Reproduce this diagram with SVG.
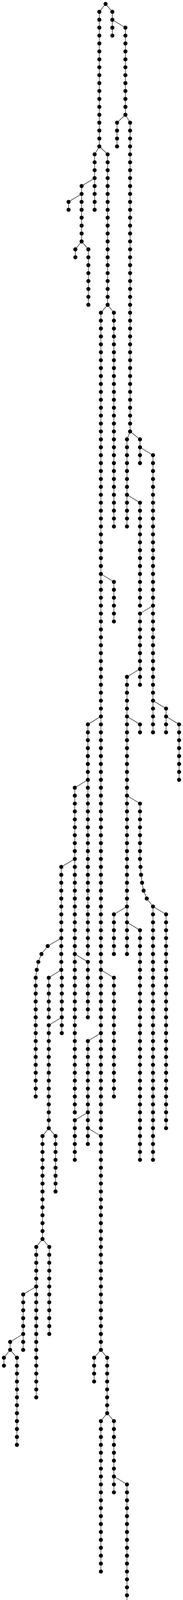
<svg xmlns="http://www.w3.org/2000/svg" width="468" height="4560" viewBox="0 0 468 4560">
<style>
.e path{fill:none;stroke:#111;stroke-width:1.2}
.n circle{fill:#000;r:5.2px}
</style>
<rect width="468" height="4560" fill="#fff"/>
<g id="connectors" class="e">
<path d="M270 10 L254 30.3 V374.8"/>
<path d="M270 10 L287.3 30.3 V91.1"/>
<path d="M287.3 50.5 L320.7 70.8 V293.8"/>
<path d="M320.7 293.8 L299.3 314 V374.8"/>
<path d="M320.7 293.8 L332.7 314 V1104.5"/>
<path d="M254 374.8 L242 395.1 V537"/>
<path d="M254 374.8 L275.3 395.1 V780.2"/>
<path d="M242 455.9 L208.7 476.2 V618"/>
<path d="M208.7 496.4 L175.3 516.7 V537"/>
<path d="M208.7 618 L192.7 638.3 V658.6"/>
<path d="M208.7 618 L226 638.3 V780.2"/>
<path d="M275.3 780.2 L258 800.5 V2888.1"/>
<path d="M275.3 780.2 L291.3 800.5 V1347.7"/>
<path d="M332.7 1104.5 L324.7 1124.7 V1347.7"/>
<path d="M332.7 1104.5 L358 1124.7 V1185.5"/>
<path d="M358 1145 L391.3 1165.3 V1874.7"/>
<path d="M324.7 1266.6 L358 1286.9 V1550.4"/>
<path d="M258 1469.3 L291.3 1489.6 V1590.9"/>
<path d="M258 1834.1 L224.7 1854.4 V2442.2"/>
<path d="M391.3 1550.4 L358 1570.6 V1753"/>
<path d="M358 1712.5 L324.7 1732.8 V2442.2"/>
<path d="M324.7 1834.1 L358 1854.4 V1874.7"/>
<path d="M391.3 1793.6 L424.7 1813.9 V1874.7"/>
<path d="M424.7 1834.1 L458 1854.4 V1996.3"/>
<path d="M224.7 1996.3 L191.3 2016.5 V2847.5"/>
<path d="M191.3 2198.9 L156.7 2219.2 V2482.7"/>
<path d="M324.7 2036.8 L358 2057.1 V2198.9 L359.3 2219.2 L360.7 2239.5 L363.3 2259.7 L367.3 2280 L375.3 2300.3 L391.3 2320.6 V2969.1"/>
<path d="M156.7 2401.6 L122 2421.9 L106 2442.2 L98 2462.4 L94 2482.7 L91.3 2503 V2807"/>
<path d="M156.7 2482.7 L124.7 2503 V2604.3"/>
<path d="M156.7 2482.7 L158 2503 V2644.8"/>
<path d="M158 2604.3 L124.7 2624.6 V2888.1"/>
<path d="M191.3 2442.2 L224.7 2462.4 V2604.3"/>
<path d="M258 2482.7 L291.3 2503 V2807"/>
<path d="M258 2644.8 L224.7 2665.1 V2928.6"/>
<path d="M324.7 2320.6 L291.3 2340.8 V2442.2"/>
<path d="M324.7 2361.1 L358 2381.4 V2969.1"/>
<path d="M391.3 2320.6 L424.7 2340.8 V2888.1"/>
<path d="M124.7 2888.1 L108.7 2908.3 V3171.8"/>
<path d="M124.7 2888.1 L142 2908.3 V3050.2"/>
<path d="M224.7 2847.5 L191.3 2867.8 V2969.1"/>
<path d="M224.7 2888.1 L258 2908.3 V3455.6"/>
<path d="M108.7 3171.8 L92.7 3192.1 V3577.2"/>
<path d="M108.7 3171.8 L126 3192.1 V3415"/>
<path d="M92.7 3293.4 L59.3 3313.7 V3455.6"/>
<path d="M59.3 3415 L26 3435.3 V3455.6"/>
<path d="M26 3455.6 L10 3475.8 V3496.1"/>
<path d="M26 3455.6 L43.3 3475.8 V3698.8"/>
<path d="M258 3455.6 L240.7 3475.8 V3536.6"/>
<path d="M258 3455.6 L274 3475.8 V3617.7"/>
<path d="M274 3617.7 L258 3638 V4023.1"/>
<path d="M274 3617.7 L291.3 3638 V3820.4"/>
<path d="M291.3 3779.8 L324.7 3800.1 V4104.1"/>
<path d="M324.7 4104.1 L308.7 4124.4 V4185.2"/>
<path d="M324.7 4104.1 L342 4124.4 V4225.7"/>
<path d="M308.7 4144.7 L275.3 4164.9 V4266.3"/>
<path d="M342 4225.7 L324.7 4246 V4266.3"/>
<path d="M342 4225.7 L358 4246 V4347.4"/>
<path d="M358 4347.4 L342 4367.6 V4428.4"/>
<path d="M358 4347.4 L375.3 4367.6 V4550"/>
</g>
<g id="nodes" class="n">
<g id="n0"><circle cx="270" cy="10"/></g>
<g id="c1" transform="translate(254 0)">
<g id="n1-1"><circle cy="30.3"/></g><g id="n1-2"><circle cy="50.5"/></g><g id="n1-3"><circle cy="70.8"/></g><g id="n1-4"><circle cy="91.1"/></g><g id="n1-5"><circle cy="111.3"/></g><g id="n1-6"><circle cy="131.6"/></g><g id="n1-7"><circle cy="151.9"/></g><g id="n1-8"><circle cy="172.1"/></g><g id="n1-9"><circle cy="192.4"/></g><g id="n1-10"><circle cy="212.7"/></g><g id="n1-11"><circle cy="232.9"/></g><g id="n1-12"><circle cy="253.2"/></g><g id="n1-13"><circle cy="273.5"/></g><g id="n1-14"><circle cy="293.8"/></g><g id="n1-15"><circle cy="314"/></g><g id="n1-16"><circle cy="334.3"/></g><g id="n1-17"><circle cy="354.6"/></g><g id="n1-18"><circle cy="374.8"/></g>
</g>
<g id="c2" transform="translate(287.3 0)">
<g id="n2-1"><circle cy="30.3"/></g><g id="n2-2"><circle cy="50.5"/></g><g id="n2-3"><circle cy="70.8"/></g><g id="n2-4"><circle cy="91.1"/></g>
</g>
<g id="c3" transform="translate(320.7 0)">
<g id="n3-3"><circle cy="70.8"/></g><g id="n3-4"><circle cy="91.1"/></g><g id="n3-5"><circle cy="111.3"/></g><g id="n3-6"><circle cy="131.6"/></g><g id="n3-7"><circle cy="151.9"/></g><g id="n3-8"><circle cy="172.1"/></g><g id="n3-9"><circle cy="192.4"/></g><g id="n3-10"><circle cy="212.7"/></g><g id="n3-11"><circle cy="232.9"/></g><g id="n3-12"><circle cy="253.2"/></g><g id="n3-13"><circle cy="273.5"/></g><g id="n3-14"><circle cy="293.8"/></g>
</g>
<g id="c4" transform="translate(299.3 0)">
<g id="n4-15"><circle cy="314"/></g><g id="n4-16"><circle cy="334.3"/></g><g id="n4-17"><circle cy="354.6"/></g><g id="n4-18"><circle cy="374.8"/></g>
</g>
<g id="c5" transform="translate(332.7 0)">
<g id="n5-15"><circle cy="314"/></g><g id="n5-16"><circle cy="334.3"/></g><g id="n5-17"><circle cy="354.6"/></g><g id="n5-18"><circle cy="374.8"/></g><g id="n5-19"><circle cy="395.1"/></g><g id="n5-20"><circle cy="415.4"/></g><g id="n5-21"><circle cy="435.6"/></g><g id="n5-22"><circle cy="455.9"/></g><g id="n5-23"><circle cy="476.2"/></g><g id="n5-24"><circle cy="496.4"/></g><g id="n5-25"><circle cy="516.7"/></g><g id="n5-26"><circle cy="537"/></g><g id="n5-27"><circle cy="557.2"/></g><g id="n5-28"><circle cy="577.5"/></g><g id="n5-29"><circle cy="597.8"/></g><g id="n5-30"><circle cy="618"/></g><g id="n5-31"><circle cy="638.3"/></g><g id="n5-32"><circle cy="658.6"/></g><g id="n5-33"><circle cy="678.8"/></g><g id="n5-34"><circle cy="699.1"/></g><g id="n5-35"><circle cy="719.4"/></g><g id="n5-36"><circle cy="739.6"/></g><g id="n5-37"><circle cy="759.9"/></g><g id="n5-38"><circle cy="780.2"/></g><g id="n5-39"><circle cy="800.5"/></g><g id="n5-40"><circle cy="820.7"/></g><g id="n5-41"><circle cy="841"/></g><g id="n5-42"><circle cy="861.3"/></g><g id="n5-43"><circle cy="881.5"/></g><g id="n5-44"><circle cy="901.8"/></g><g id="n5-45"><circle cy="922.1"/></g><g id="n5-46"><circle cy="942.3"/></g><g id="n5-47"><circle cy="962.6"/></g><g id="n5-48"><circle cy="982.9"/></g><g id="n5-49"><circle cy="1003.1"/></g><g id="n5-50"><circle cy="1023.4"/></g><g id="n5-51"><circle cy="1043.7"/></g><g id="n5-52"><circle cy="1063.9"/></g><g id="n5-53"><circle cy="1084.2"/></g><g id="n5-54"><circle cy="1104.5"/></g>
</g>
<g id="c6" transform="translate(242 0)">
<g id="n6-19"><circle cy="395.1"/></g><g id="n6-20"><circle cy="415.4"/></g><g id="n6-21"><circle cy="435.6"/></g><g id="n6-22"><circle cy="455.9"/></g><g id="n6-23"><circle cy="476.2"/></g><g id="n6-24"><circle cy="496.4"/></g><g id="n6-25"><circle cy="516.7"/></g><g id="n6-26"><circle cy="537"/></g>
</g>
<g id="c7" transform="translate(275.3 0)">
<g id="n7-19"><circle cy="395.1"/></g><g id="n7-20"><circle cy="415.4"/></g><g id="n7-21"><circle cy="435.6"/></g><g id="n7-22"><circle cy="455.9"/></g><g id="n7-23"><circle cy="476.2"/></g><g id="n7-24"><circle cy="496.4"/></g><g id="n7-25"><circle cy="516.7"/></g><g id="n7-26"><circle cy="537"/></g><g id="n7-27"><circle cy="557.2"/></g><g id="n7-28"><circle cy="577.5"/></g><g id="n7-29"><circle cy="597.8"/></g><g id="n7-30"><circle cy="618"/></g><g id="n7-31"><circle cy="638.3"/></g><g id="n7-32"><circle cy="658.6"/></g><g id="n7-33"><circle cy="678.8"/></g><g id="n7-34"><circle cy="699.1"/></g><g id="n7-35"><circle cy="719.4"/></g><g id="n7-36"><circle cy="739.6"/></g><g id="n7-37"><circle cy="759.9"/></g><g id="n7-38"><circle cy="780.2"/></g>
</g>
<g id="c8" transform="translate(208.7 0)">
<g id="n8-23"><circle cy="476.2"/></g><g id="n8-24"><circle cy="496.4"/></g><g id="n8-25"><circle cy="516.7"/></g><g id="n8-26"><circle cy="537"/></g><g id="n8-27"><circle cy="557.2"/></g><g id="n8-28"><circle cy="577.5"/></g><g id="n8-29"><circle cy="597.8"/></g><g id="n8-30"><circle cy="618"/></g>
</g>
<g id="c9" transform="translate(175.3 0)">
<g id="n9-25"><circle cy="516.7"/></g><g id="n9-26"><circle cy="537"/></g>
</g>
<g id="c10" transform="translate(192.7 0)">
<g id="n10-31"><circle cy="638.3"/></g><g id="n10-32"><circle cy="658.6"/></g>
</g>
<g id="c11" transform="translate(226 0)">
<g id="n11-31"><circle cy="638.3"/></g><g id="n11-32"><circle cy="658.6"/></g><g id="n11-33"><circle cy="678.8"/></g><g id="n11-34"><circle cy="699.1"/></g><g id="n11-35"><circle cy="719.4"/></g><g id="n11-36"><circle cy="739.6"/></g><g id="n11-37"><circle cy="759.9"/></g><g id="n11-38"><circle cy="780.2"/></g>
</g>
<g id="c12" transform="translate(258 0)">
<g id="n12-39"><circle cy="800.5"/></g><g id="n12-40"><circle cy="820.7"/></g><g id="n12-41"><circle cy="841"/></g><g id="n12-42"><circle cy="861.3"/></g><g id="n12-43"><circle cy="881.5"/></g><g id="n12-44"><circle cy="901.8"/></g><g id="n12-45"><circle cy="922.1"/></g><g id="n12-46"><circle cy="942.3"/></g><g id="n12-47"><circle cy="962.6"/></g><g id="n12-48"><circle cy="982.9"/></g><g id="n12-49"><circle cy="1003.1"/></g><g id="n12-50"><circle cy="1023.4"/></g><g id="n12-51"><circle cy="1043.7"/></g><g id="n12-52"><circle cy="1063.9"/></g><g id="n12-53"><circle cy="1084.2"/></g><g id="n12-54"><circle cy="1104.5"/></g><g id="n12-55"><circle cy="1124.7"/></g><g id="n12-56"><circle cy="1145"/></g><g id="n12-57"><circle cy="1165.3"/></g><g id="n12-58"><circle cy="1185.5"/></g><g id="n12-59"><circle cy="1205.8"/></g><g id="n12-60"><circle cy="1226.1"/></g><g id="n12-61"><circle cy="1246.3"/></g><g id="n12-62"><circle cy="1266.6"/></g><g id="n12-63"><circle cy="1286.9"/></g><g id="n12-64"><circle cy="1307.2"/></g><g id="n12-65"><circle cy="1327.4"/></g><g id="n12-66"><circle cy="1347.7"/></g><g id="n12-67"><circle cy="1368"/></g><g id="n12-68"><circle cy="1388.2"/></g><g id="n12-69"><circle cy="1408.5"/></g><g id="n12-70"><circle cy="1428.8"/></g><g id="n12-71"><circle cy="1449"/></g><g id="n12-72"><circle cy="1469.3"/></g><g id="n12-73"><circle cy="1489.6"/></g><g id="n12-74"><circle cy="1509.8"/></g><g id="n12-75"><circle cy="1530.1"/></g><g id="n12-76"><circle cy="1550.4"/></g><g id="n12-77"><circle cy="1570.6"/></g><g id="n12-78"><circle cy="1590.9"/></g><g id="n12-79"><circle cy="1611.2"/></g><g id="n12-80"><circle cy="1631.4"/></g><g id="n12-81"><circle cy="1651.7"/></g><g id="n12-82"><circle cy="1672"/></g><g id="n12-83"><circle cy="1692.2"/></g><g id="n12-84"><circle cy="1712.5"/></g><g id="n12-85"><circle cy="1732.8"/></g><g id="n12-86"><circle cy="1753"/></g><g id="n12-87"><circle cy="1773.3"/></g><g id="n12-88"><circle cy="1793.6"/></g><g id="n12-89"><circle cy="1813.9"/></g><g id="n12-90"><circle cy="1834.1"/></g><g id="n12-91"><circle cy="1854.4"/></g><g id="n12-92"><circle cy="1874.7"/></g><g id="n12-93"><circle cy="1894.9"/></g><g id="n12-94"><circle cy="1915.2"/></g><g id="n12-95"><circle cy="1935.5"/></g><g id="n12-96"><circle cy="1955.7"/></g><g id="n12-97"><circle cy="1976"/></g><g id="n12-98"><circle cy="1996.3"/></g><g id="n12-99"><circle cy="2016.5"/></g><g id="n12-100"><circle cy="2036.8"/></g><g id="n12-101"><circle cy="2057.1"/></g><g id="n12-102"><circle cy="2077.3"/></g><g id="n12-103"><circle cy="2097.6"/></g><g id="n12-104"><circle cy="2117.9"/></g><g id="n12-105"><circle cy="2138.1"/></g><g id="n12-106"><circle cy="2158.4"/></g><g id="n12-107"><circle cy="2178.7"/></g><g id="n12-108"><circle cy="2198.9"/></g><g id="n12-109"><circle cy="2219.2"/></g><g id="n12-110"><circle cy="2239.5"/></g><g id="n12-111"><circle cy="2259.7"/></g><g id="n12-112"><circle cy="2280"/></g><g id="n12-113"><circle cy="2300.3"/></g><g id="n12-114"><circle cy="2320.6"/></g><g id="n12-115"><circle cy="2340.8"/></g><g id="n12-116"><circle cy="2361.1"/></g><g id="n12-117"><circle cy="2381.4"/></g><g id="n12-118"><circle cy="2401.6"/></g><g id="n12-119"><circle cy="2421.9"/></g><g id="n12-120"><circle cy="2442.2"/></g><g id="n12-121"><circle cy="2462.4"/></g><g id="n12-122"><circle cy="2482.7"/></g><g id="n12-123"><circle cy="2503"/></g><g id="n12-124"><circle cy="2523.2"/></g><g id="n12-125"><circle cy="2543.5"/></g><g id="n12-126"><circle cy="2563.8"/></g><g id="n12-127"><circle cy="2584"/></g><g id="n12-128"><circle cy="2604.3"/></g><g id="n12-129"><circle cy="2624.6"/></g><g id="n12-130"><circle cy="2644.8"/></g><g id="n12-131"><circle cy="2665.1"/></g><g id="n12-132"><circle cy="2685.4"/></g><g id="n12-133"><circle cy="2705.6"/></g><g id="n12-134"><circle cy="2725.9"/></g><g id="n12-135"><circle cy="2746.2"/></g><g id="n12-136"><circle cy="2766.4"/></g><g id="n12-137"><circle cy="2786.7"/></g><g id="n12-138"><circle cy="2807"/></g><g id="n12-139"><circle cy="2827.3"/></g><g id="n12-140"><circle cy="2847.5"/></g><g id="n12-141"><circle cy="2867.8"/></g><g id="n12-142"><circle cy="2888.1"/></g>
</g>
<g id="c13" transform="translate(291.3 0)">
<g id="n13-39"><circle cy="800.5"/></g><g id="n13-40"><circle cy="820.7"/></g><g id="n13-41"><circle cy="841"/></g><g id="n13-42"><circle cy="861.3"/></g><g id="n13-43"><circle cy="881.5"/></g><g id="n13-44"><circle cy="901.8"/></g><g id="n13-45"><circle cy="922.1"/></g><g id="n13-46"><circle cy="942.3"/></g><g id="n13-47"><circle cy="962.6"/></g><g id="n13-48"><circle cy="982.9"/></g><g id="n13-49"><circle cy="1003.1"/></g><g id="n13-50"><circle cy="1023.4"/></g><g id="n13-51"><circle cy="1043.7"/></g><g id="n13-52"><circle cy="1063.9"/></g><g id="n13-53"><circle cy="1084.2"/></g><g id="n13-54"><circle cy="1104.5"/></g><g id="n13-55"><circle cy="1124.7"/></g><g id="n13-56"><circle cy="1145"/></g><g id="n13-57"><circle cy="1165.3"/></g><g id="n13-58"><circle cy="1185.5"/></g><g id="n13-59"><circle cy="1205.8"/></g><g id="n13-60"><circle cy="1226.1"/></g><g id="n13-61"><circle cy="1246.3"/></g><g id="n13-62"><circle cy="1266.6"/></g><g id="n13-63"><circle cy="1286.9"/></g><g id="n13-64"><circle cy="1307.2"/></g><g id="n13-65"><circle cy="1327.4"/></g><g id="n13-66"><circle cy="1347.7"/></g>
</g>
<g id="c14" transform="translate(324.7 0)">
<g id="n14-55"><circle cy="1124.7"/></g><g id="n14-56"><circle cy="1145"/></g><g id="n14-57"><circle cy="1165.3"/></g><g id="n14-58"><circle cy="1185.5"/></g><g id="n14-59"><circle cy="1205.8"/></g><g id="n14-60"><circle cy="1226.1"/></g><g id="n14-61"><circle cy="1246.3"/></g><g id="n14-62"><circle cy="1266.6"/></g><g id="n14-63"><circle cy="1286.9"/></g><g id="n14-64"><circle cy="1307.2"/></g><g id="n14-65"><circle cy="1327.4"/></g><g id="n14-66"><circle cy="1347.7"/></g>
</g>
<g id="c15" transform="translate(358 0)">
<g id="n15-55"><circle cy="1124.7"/></g><g id="n15-56"><circle cy="1145"/></g><g id="n15-57"><circle cy="1165.3"/></g><g id="n15-58"><circle cy="1185.5"/></g>
</g>
<g id="c16" transform="translate(391.3 0)">
<g id="n16-57"><circle cy="1165.3"/></g><g id="n16-58"><circle cy="1185.5"/></g><g id="n16-59"><circle cy="1205.8"/></g><g id="n16-60"><circle cy="1226.1"/></g><g id="n16-61"><circle cy="1246.3"/></g><g id="n16-62"><circle cy="1266.6"/></g><g id="n16-63"><circle cy="1286.9"/></g><g id="n16-64"><circle cy="1307.2"/></g><g id="n16-65"><circle cy="1327.4"/></g><g id="n16-66"><circle cy="1347.7"/></g><g id="n16-67"><circle cy="1368"/></g><g id="n16-68"><circle cy="1388.2"/></g><g id="n16-69"><circle cy="1408.5"/></g><g id="n16-70"><circle cy="1428.8"/></g><g id="n16-71"><circle cy="1449"/></g><g id="n16-72"><circle cy="1469.3"/></g><g id="n16-73"><circle cy="1489.6"/></g><g id="n16-74"><circle cy="1509.8"/></g><g id="n16-75"><circle cy="1530.1"/></g><g id="n16-76"><circle cy="1550.4"/></g><g id="n16-77"><circle cy="1570.6"/></g><g id="n16-78"><circle cy="1590.9"/></g><g id="n16-79"><circle cy="1611.2"/></g><g id="n16-80"><circle cy="1631.4"/></g><g id="n16-81"><circle cy="1651.7"/></g><g id="n16-82"><circle cy="1672"/></g><g id="n16-83"><circle cy="1692.2"/></g><g id="n16-84"><circle cy="1712.5"/></g><g id="n16-85"><circle cy="1732.8"/></g><g id="n16-86"><circle cy="1753"/></g><g id="n16-87"><circle cy="1773.3"/></g><g id="n16-88"><circle cy="1793.6"/></g><g id="n16-89"><circle cy="1813.9"/></g><g id="n16-90"><circle cy="1834.1"/></g><g id="n16-91"><circle cy="1854.4"/></g><g id="n16-92"><circle cy="1874.7"/></g>
</g>
<g id="c17" transform="translate(358 0)">
<g id="n17-63"><circle cy="1286.9"/></g><g id="n17-64"><circle cy="1307.2"/></g><g id="n17-65"><circle cy="1327.4"/></g><g id="n17-66"><circle cy="1347.7"/></g><g id="n17-67"><circle cy="1368"/></g><g id="n17-68"><circle cy="1388.2"/></g><g id="n17-69"><circle cy="1408.5"/></g><g id="n17-70"><circle cy="1428.8"/></g><g id="n17-71"><circle cy="1449"/></g><g id="n17-72"><circle cy="1469.3"/></g><g id="n17-73"><circle cy="1489.6"/></g><g id="n17-74"><circle cy="1509.8"/></g><g id="n17-75"><circle cy="1530.1"/></g><g id="n17-76"><circle cy="1550.4"/></g>
</g>
<g id="c18" transform="translate(291.3 0)">
<g id="n18-73"><circle cy="1489.6"/></g><g id="n18-74"><circle cy="1509.8"/></g><g id="n18-75"><circle cy="1530.1"/></g><g id="n18-76"><circle cy="1550.4"/></g><g id="n18-77"><circle cy="1570.6"/></g><g id="n18-78"><circle cy="1590.9"/></g>
</g>
<g id="c19" transform="translate(224.7 0)">
<g id="n19-91"><circle cy="1854.4"/></g><g id="n19-92"><circle cy="1874.7"/></g><g id="n19-93"><circle cy="1894.9"/></g><g id="n19-94"><circle cy="1915.2"/></g><g id="n19-95"><circle cy="1935.5"/></g><g id="n19-96"><circle cy="1955.7"/></g><g id="n19-97"><circle cy="1976"/></g><g id="n19-98"><circle cy="1996.3"/></g><g id="n19-99"><circle cy="2016.5"/></g><g id="n19-100"><circle cy="2036.8"/></g><g id="n19-101"><circle cy="2057.1"/></g><g id="n19-102"><circle cy="2077.3"/></g><g id="n19-103"><circle cy="2097.6"/></g><g id="n19-104"><circle cy="2117.9"/></g><g id="n19-105"><circle cy="2138.1"/></g><g id="n19-106"><circle cy="2158.4"/></g><g id="n19-107"><circle cy="2178.7"/></g><g id="n19-108"><circle cy="2198.9"/></g><g id="n19-109"><circle cy="2219.2"/></g><g id="n19-110"><circle cy="2239.5"/></g><g id="n19-111"><circle cy="2259.7"/></g><g id="n19-112"><circle cy="2280"/></g><g id="n19-113"><circle cy="2300.3"/></g><g id="n19-114"><circle cy="2320.6"/></g><g id="n19-115"><circle cy="2340.8"/></g><g id="n19-116"><circle cy="2361.1"/></g><g id="n19-117"><circle cy="2381.4"/></g><g id="n19-118"><circle cy="2401.6"/></g><g id="n19-119"><circle cy="2421.9"/></g><g id="n19-120"><circle cy="2442.2"/></g>
</g>
<g id="c20" transform="translate(358 0)">
<g id="n20-77"><circle cy="1570.6"/></g><g id="n20-78"><circle cy="1590.9"/></g><g id="n20-79"><circle cy="1611.2"/></g><g id="n20-80"><circle cy="1631.4"/></g><g id="n20-81"><circle cy="1651.7"/></g><g id="n20-82"><circle cy="1672"/></g><g id="n20-83"><circle cy="1692.2"/></g><g id="n20-84"><circle cy="1712.5"/></g><g id="n20-85"><circle cy="1732.8"/></g><g id="n20-86"><circle cy="1753"/></g>
</g>
<g id="c21" transform="translate(324.7 0)">
<g id="n21-85"><circle cy="1732.8"/></g><g id="n21-86"><circle cy="1753"/></g><g id="n21-87"><circle cy="1773.3"/></g><g id="n21-88"><circle cy="1793.6"/></g><g id="n21-89"><circle cy="1813.9"/></g><g id="n21-90"><circle cy="1834.1"/></g><g id="n21-91"><circle cy="1854.4"/></g><g id="n21-92"><circle cy="1874.7"/></g><g id="n21-93"><circle cy="1894.9"/></g><g id="n21-94"><circle cy="1915.2"/></g><g id="n21-95"><circle cy="1935.5"/></g><g id="n21-96"><circle cy="1955.7"/></g><g id="n21-97"><circle cy="1976"/></g><g id="n21-98"><circle cy="1996.3"/></g><g id="n21-99"><circle cy="2016.5"/></g><g id="n21-100"><circle cy="2036.8"/></g><g id="n21-101"><circle cy="2057.1"/></g><g id="n21-102"><circle cy="2077.3"/></g><g id="n21-103"><circle cy="2097.6"/></g><g id="n21-104"><circle cy="2117.9"/></g><g id="n21-105"><circle cy="2138.1"/></g><g id="n21-106"><circle cy="2158.4"/></g><g id="n21-107"><circle cy="2178.7"/></g><g id="n21-108"><circle cy="2198.9"/></g><g id="n21-109"><circle cy="2219.2"/></g><g id="n21-110"><circle cy="2239.5"/></g><g id="n21-111"><circle cy="2259.7"/></g><g id="n21-112"><circle cy="2280"/></g><g id="n21-113"><circle cy="2300.3"/></g><g id="n21-114"><circle cy="2320.6"/></g><g id="n21-115"><circle cy="2340.8"/></g><g id="n21-116"><circle cy="2361.1"/></g><g id="n21-117"><circle cy="2381.4"/></g><g id="n21-118"><circle cy="2401.6"/></g><g id="n21-119"><circle cy="2421.9"/></g><g id="n21-120"><circle cy="2442.2"/></g>
</g>
<g id="c22" transform="translate(358 0)">
<g id="n22-91"><circle cy="1854.4"/></g><g id="n22-92"><circle cy="1874.7"/></g>
</g>
<g id="c23" transform="translate(424.7 0)">
<g id="n23-89"><circle cy="1813.9"/></g><g id="n23-90"><circle cy="1834.1"/></g><g id="n23-91"><circle cy="1854.4"/></g><g id="n23-92"><circle cy="1874.7"/></g>
</g>
<g id="c24" transform="translate(458 0)">
<g id="n24-91"><circle cy="1854.4"/></g><g id="n24-92"><circle cy="1874.7"/></g><g id="n24-93"><circle cy="1894.9"/></g><g id="n24-94"><circle cy="1915.2"/></g><g id="n24-95"><circle cy="1935.5"/></g><g id="n24-96"><circle cy="1955.7"/></g><g id="n24-97"><circle cy="1976"/></g><g id="n24-98"><circle cy="1996.3"/></g>
</g>
<g id="c25" transform="translate(191.3 0)">
<g id="n25-99"><circle cy="2016.5"/></g><g id="n25-100"><circle cy="2036.8"/></g><g id="n25-101"><circle cy="2057.1"/></g><g id="n25-102"><circle cy="2077.3"/></g><g id="n25-103"><circle cy="2097.6"/></g><g id="n25-104"><circle cy="2117.9"/></g><g id="n25-105"><circle cy="2138.1"/></g><g id="n25-106"><circle cy="2158.4"/></g><g id="n25-107"><circle cy="2178.7"/></g><g id="n25-108"><circle cy="2198.9"/></g><g id="n25-109"><circle cy="2219.2"/></g><g id="n25-110"><circle cy="2239.5"/></g><g id="n25-111"><circle cy="2259.7"/></g><g id="n25-112"><circle cy="2280"/></g><g id="n25-113"><circle cy="2300.3"/></g><g id="n25-114"><circle cy="2320.6"/></g><g id="n25-115"><circle cy="2340.8"/></g><g id="n25-116"><circle cy="2361.1"/></g><g id="n25-117"><circle cy="2381.4"/></g><g id="n25-118"><circle cy="2401.6"/></g><g id="n25-119"><circle cy="2421.9"/></g><g id="n25-120"><circle cy="2442.2"/></g><g id="n25-121"><circle cy="2462.4"/></g><g id="n25-122"><circle cy="2482.7"/></g><g id="n25-123"><circle cy="2503"/></g><g id="n25-124"><circle cy="2523.2"/></g><g id="n25-125"><circle cy="2543.5"/></g><g id="n25-126"><circle cy="2563.8"/></g><g id="n25-127"><circle cy="2584"/></g><g id="n25-128"><circle cy="2604.3"/></g><g id="n25-129"><circle cy="2624.6"/></g><g id="n25-130"><circle cy="2644.8"/></g><g id="n25-131"><circle cy="2665.1"/></g><g id="n25-132"><circle cy="2685.4"/></g><g id="n25-133"><circle cy="2705.6"/></g><g id="n25-134"><circle cy="2725.9"/></g><g id="n25-135"><circle cy="2746.2"/></g><g id="n25-136"><circle cy="2766.4"/></g><g id="n25-137"><circle cy="2786.7"/></g><g id="n25-138"><circle cy="2807"/></g><g id="n25-139"><circle cy="2827.3"/></g><g id="n25-140"><circle cy="2847.5"/></g>
</g>
<g id="c26" transform="translate(156.7 0)">
<g id="n26-109"><circle cy="2219.2"/></g><g id="n26-110"><circle cy="2239.5"/></g><g id="n26-111"><circle cy="2259.7"/></g><g id="n26-112"><circle cy="2280"/></g><g id="n26-113"><circle cy="2300.3"/></g><g id="n26-114"><circle cy="2320.6"/></g><g id="n26-115"><circle cy="2340.8"/></g><g id="n26-116"><circle cy="2361.1"/></g><g id="n26-117"><circle cy="2381.4"/></g><g id="n26-118"><circle cy="2401.6"/></g><g id="n26-119"><circle cy="2421.9"/></g><g id="n26-120"><circle cy="2442.2"/></g><g id="n26-121"><circle cy="2462.4"/></g><g id="n26-122"><circle cy="2482.7"/></g>
</g>
<g id="c27">
<g id="n27-101"><circle cx="358" cy="2057.1"/></g><g id="n27-102"><circle cx="358" cy="2077.3"/></g><g id="n27-103"><circle cx="358" cy="2097.6"/></g><g id="n27-104"><circle cx="358" cy="2117.9"/></g><g id="n27-105"><circle cx="358" cy="2138.1"/></g><g id="n27-106"><circle cx="358" cy="2158.4"/></g><g id="n27-107"><circle cx="358" cy="2178.7"/></g><g id="n27-108"><circle cx="358" cy="2198.9"/></g><g id="n27-109"><circle cx="359.3" cy="2219.2"/></g><g id="n27-110"><circle cx="360.7" cy="2239.5"/></g><g id="n27-111"><circle cx="363.3" cy="2259.7"/></g><g id="n27-112"><circle cx="367.3" cy="2280"/></g><g id="n27-113"><circle cx="375.3" cy="2300.3"/></g>
</g>
<g id="c27b" transform="translate(391.3 0)">
<g id="n27-114"><circle cy="2320.6"/></g><g id="n27-115"><circle cy="2340.8"/></g><g id="n27-116"><circle cy="2361.1"/></g><g id="n27-117"><circle cy="2381.4"/></g><g id="n27-118"><circle cy="2401.6"/></g><g id="n27-119"><circle cy="2421.9"/></g><g id="n27-120"><circle cy="2442.2"/></g><g id="n27-121"><circle cy="2462.4"/></g><g id="n27-122"><circle cy="2482.7"/></g><g id="n27-123"><circle cy="2503"/></g><g id="n27-124"><circle cy="2523.2"/></g><g id="n27-125"><circle cy="2543.5"/></g><g id="n27-126"><circle cy="2563.8"/></g><g id="n27-127"><circle cy="2584"/></g><g id="n27-128"><circle cy="2604.3"/></g><g id="n27-129"><circle cy="2624.6"/></g><g id="n27-130"><circle cy="2644.8"/></g><g id="n27-131"><circle cy="2665.1"/></g><g id="n27-132"><circle cy="2685.4"/></g><g id="n27-133"><circle cy="2705.6"/></g><g id="n27-134"><circle cy="2725.9"/></g><g id="n27-135"><circle cy="2746.2"/></g><g id="n27-136"><circle cy="2766.4"/></g><g id="n27-137"><circle cy="2786.7"/></g><g id="n27-138"><circle cy="2807"/></g><g id="n27-139"><circle cy="2827.3"/></g><g id="n27-140"><circle cy="2847.5"/></g><g id="n27-141"><circle cy="2867.8"/></g><g id="n27-142"><circle cy="2888.1"/></g><g id="n27-143"><circle cy="2908.3"/></g><g id="n27-144"><circle cy="2928.6"/></g><g id="n27-145"><circle cy="2948.9"/></g><g id="n27-146"><circle cy="2969.1"/></g>
</g>
<g id="c28">
<g id="n28-119"><circle cx="122" cy="2421.9"/></g><g id="n28-120"><circle cx="106" cy="2442.2"/></g><g id="n28-121"><circle cx="98" cy="2462.4"/></g><g id="n28-122"><circle cx="94" cy="2482.7"/></g>
</g>
<g id="c28b" transform="translate(91.3 0)">
<g id="n28-123"><circle cy="2503"/></g><g id="n28-124"><circle cy="2523.2"/></g><g id="n28-125"><circle cy="2543.5"/></g><g id="n28-126"><circle cy="2563.8"/></g><g id="n28-127"><circle cy="2584"/></g><g id="n28-128"><circle cy="2604.3"/></g><g id="n28-129"><circle cy="2624.6"/></g><g id="n28-130"><circle cy="2644.8"/></g><g id="n28-131"><circle cy="2665.1"/></g><g id="n28-132"><circle cy="2685.4"/></g><g id="n28-133"><circle cy="2705.6"/></g><g id="n28-134"><circle cy="2725.9"/></g><g id="n28-135"><circle cy="2746.2"/></g><g id="n28-136"><circle cy="2766.4"/></g><g id="n28-137"><circle cy="2786.7"/></g><g id="n28-138"><circle cy="2807"/></g>
</g>
<g id="c29" transform="translate(124.7 0)">
<g id="n29-123"><circle cy="2503"/></g><g id="n29-124"><circle cy="2523.2"/></g><g id="n29-125"><circle cy="2543.5"/></g><g id="n29-126"><circle cy="2563.8"/></g><g id="n29-127"><circle cy="2584"/></g><g id="n29-128"><circle cy="2604.3"/></g>
</g>
<g id="c30" transform="translate(158 0)">
<g id="n30-123"><circle cy="2503"/></g><g id="n30-124"><circle cy="2523.2"/></g><g id="n30-125"><circle cy="2543.5"/></g><g id="n30-126"><circle cy="2563.8"/></g><g id="n30-127"><circle cy="2584"/></g><g id="n30-128"><circle cy="2604.3"/></g><g id="n30-129"><circle cy="2624.6"/></g><g id="n30-130"><circle cy="2644.8"/></g>
</g>
<g id="c31" transform="translate(124.7 0)">
<g id="n31-129"><circle cy="2624.6"/></g><g id="n31-130"><circle cy="2644.8"/></g><g id="n31-131"><circle cy="2665.1"/></g><g id="n31-132"><circle cy="2685.4"/></g><g id="n31-133"><circle cy="2705.6"/></g><g id="n31-134"><circle cy="2725.9"/></g><g id="n31-135"><circle cy="2746.2"/></g><g id="n31-136"><circle cy="2766.4"/></g><g id="n31-137"><circle cy="2786.7"/></g><g id="n31-138"><circle cy="2807"/></g><g id="n31-139"><circle cy="2827.3"/></g><g id="n31-140"><circle cy="2847.5"/></g><g id="n31-141"><circle cy="2867.8"/></g><g id="n31-142"><circle cy="2888.1"/></g>
</g>
<g id="c32" transform="translate(224.7 0)">
<g id="n32-121"><circle cy="2462.4"/></g><g id="n32-122"><circle cy="2482.7"/></g><g id="n32-123"><circle cy="2503"/></g><g id="n32-124"><circle cy="2523.2"/></g><g id="n32-125"><circle cy="2543.5"/></g><g id="n32-126"><circle cy="2563.8"/></g><g id="n32-127"><circle cy="2584"/></g><g id="n32-128"><circle cy="2604.3"/></g>
</g>
<g id="c33" transform="translate(291.3 0)">
<g id="n33-123"><circle cy="2503"/></g><g id="n33-124"><circle cy="2523.2"/></g><g id="n33-125"><circle cy="2543.5"/></g><g id="n33-126"><circle cy="2563.8"/></g><g id="n33-127"><circle cy="2584"/></g><g id="n33-128"><circle cy="2604.3"/></g><g id="n33-129"><circle cy="2624.6"/></g><g id="n33-130"><circle cy="2644.8"/></g><g id="n33-131"><circle cy="2665.1"/></g><g id="n33-132"><circle cy="2685.4"/></g><g id="n33-133"><circle cy="2705.6"/></g><g id="n33-134"><circle cy="2725.9"/></g><g id="n33-135"><circle cy="2746.2"/></g><g id="n33-136"><circle cy="2766.4"/></g><g id="n33-137"><circle cy="2786.7"/></g><g id="n33-138"><circle cy="2807"/></g>
</g>
<g id="c34" transform="translate(224.7 0)">
<g id="n34-131"><circle cy="2665.1"/></g><g id="n34-132"><circle cy="2685.4"/></g><g id="n34-133"><circle cy="2705.6"/></g><g id="n34-134"><circle cy="2725.9"/></g><g id="n34-135"><circle cy="2746.2"/></g><g id="n34-136"><circle cy="2766.4"/></g><g id="n34-137"><circle cy="2786.7"/></g><g id="n34-138"><circle cy="2807"/></g><g id="n34-139"><circle cy="2827.3"/></g><g id="n34-140"><circle cy="2847.5"/></g><g id="n34-141"><circle cy="2867.8"/></g><g id="n34-142"><circle cy="2888.1"/></g><g id="n34-143"><circle cy="2908.3"/></g><g id="n34-144"><circle cy="2928.6"/></g>
</g>
<g id="c35" transform="translate(291.3 0)">
<g id="n35-115"><circle cy="2340.8"/></g><g id="n35-116"><circle cy="2361.1"/></g><g id="n35-117"><circle cy="2381.4"/></g><g id="n35-118"><circle cy="2401.6"/></g><g id="n35-119"><circle cy="2421.9"/></g><g id="n35-120"><circle cy="2442.2"/></g>
</g>
<g id="c36" transform="translate(358 0)">
<g id="n36-117"><circle cy="2381.4"/></g><g id="n36-118"><circle cy="2401.6"/></g><g id="n36-119"><circle cy="2421.9"/></g><g id="n36-120"><circle cy="2442.2"/></g><g id="n36-121"><circle cy="2462.4"/></g><g id="n36-122"><circle cy="2482.7"/></g><g id="n36-123"><circle cy="2503"/></g><g id="n36-124"><circle cy="2523.2"/></g><g id="n36-125"><circle cy="2543.5"/></g><g id="n36-126"><circle cy="2563.8"/></g><g id="n36-127"><circle cy="2584"/></g><g id="n36-128"><circle cy="2604.3"/></g><g id="n36-129"><circle cy="2624.6"/></g><g id="n36-130"><circle cy="2644.8"/></g><g id="n36-131"><circle cy="2665.1"/></g><g id="n36-132"><circle cy="2685.4"/></g><g id="n36-133"><circle cy="2705.6"/></g><g id="n36-134"><circle cy="2725.9"/></g><g id="n36-135"><circle cy="2746.2"/></g><g id="n36-136"><circle cy="2766.4"/></g><g id="n36-137"><circle cy="2786.7"/></g><g id="n36-138"><circle cy="2807"/></g><g id="n36-139"><circle cy="2827.3"/></g><g id="n36-140"><circle cy="2847.5"/></g><g id="n36-141"><circle cy="2867.8"/></g><g id="n36-142"><circle cy="2888.1"/></g><g id="n36-143"><circle cy="2908.3"/></g><g id="n36-144"><circle cy="2928.6"/></g><g id="n36-145"><circle cy="2948.9"/></g><g id="n36-146"><circle cy="2969.1"/></g>
</g>
<g id="c37" transform="translate(424.7 0)">
<g id="n37-115"><circle cy="2340.8"/></g><g id="n37-116"><circle cy="2361.1"/></g><g id="n37-117"><circle cy="2381.4"/></g><g id="n37-118"><circle cy="2401.6"/></g><g id="n37-119"><circle cy="2421.9"/></g><g id="n37-120"><circle cy="2442.2"/></g><g id="n37-121"><circle cy="2462.4"/></g><g id="n37-122"><circle cy="2482.7"/></g><g id="n37-123"><circle cy="2503"/></g><g id="n37-124"><circle cy="2523.2"/></g><g id="n37-125"><circle cy="2543.5"/></g><g id="n37-126"><circle cy="2563.8"/></g><g id="n37-127"><circle cy="2584"/></g><g id="n37-128"><circle cy="2604.3"/></g><g id="n37-129"><circle cy="2624.6"/></g><g id="n37-130"><circle cy="2644.8"/></g><g id="n37-131"><circle cy="2665.1"/></g><g id="n37-132"><circle cy="2685.4"/></g><g id="n37-133"><circle cy="2705.6"/></g><g id="n37-134"><circle cy="2725.9"/></g><g id="n37-135"><circle cy="2746.2"/></g><g id="n37-136"><circle cy="2766.4"/></g><g id="n37-137"><circle cy="2786.7"/></g><g id="n37-138"><circle cy="2807"/></g><g id="n37-139"><circle cy="2827.3"/></g><g id="n37-140"><circle cy="2847.5"/></g><g id="n37-141"><circle cy="2867.8"/></g><g id="n37-142"><circle cy="2888.1"/></g>
</g>
<g id="c38" transform="translate(108.7 0)">
<g id="n38-143"><circle cy="2908.3"/></g><g id="n38-144"><circle cy="2928.6"/></g><g id="n38-145"><circle cy="2948.9"/></g><g id="n38-146"><circle cy="2969.1"/></g><g id="n38-147"><circle cy="2989.4"/></g><g id="n38-148"><circle cy="3009.7"/></g><g id="n38-149"><circle cy="3029.9"/></g><g id="n38-150"><circle cy="3050.2"/></g><g id="n38-151"><circle cy="3070.5"/></g><g id="n38-152"><circle cy="3090.7"/></g><g id="n38-153"><circle cy="3111"/></g><g id="n38-154"><circle cy="3131.3"/></g><g id="n38-155"><circle cy="3151.5"/></g><g id="n38-156"><circle cy="3171.8"/></g>
</g>
<g id="c39" transform="translate(142 0)">
<g id="n39-143"><circle cy="2908.3"/></g><g id="n39-144"><circle cy="2928.6"/></g><g id="n39-145"><circle cy="2948.9"/></g><g id="n39-146"><circle cy="2969.1"/></g><g id="n39-147"><circle cy="2989.4"/></g><g id="n39-148"><circle cy="3009.7"/></g><g id="n39-149"><circle cy="3029.9"/></g><g id="n39-150"><circle cy="3050.2"/></g>
</g>
<g id="c40" transform="translate(191.3 0)">
<g id="n40-141"><circle cy="2867.8"/></g><g id="n40-142"><circle cy="2888.1"/></g><g id="n40-143"><circle cy="2908.3"/></g><g id="n40-144"><circle cy="2928.6"/></g><g id="n40-145"><circle cy="2948.9"/></g><g id="n40-146"><circle cy="2969.1"/></g>
</g>
<g id="c41" transform="translate(258 0)">
<g id="n41-143"><circle cy="2908.3"/></g><g id="n41-144"><circle cy="2928.6"/></g><g id="n41-145"><circle cy="2948.9"/></g><g id="n41-146"><circle cy="2969.1"/></g><g id="n41-147"><circle cy="2989.4"/></g><g id="n41-148"><circle cy="3009.7"/></g><g id="n41-149"><circle cy="3029.9"/></g><g id="n41-150"><circle cy="3050.2"/></g><g id="n41-151"><circle cy="3070.5"/></g><g id="n41-152"><circle cy="3090.7"/></g><g id="n41-153"><circle cy="3111"/></g><g id="n41-154"><circle cy="3131.3"/></g><g id="n41-155"><circle cy="3151.5"/></g><g id="n41-156"><circle cy="3171.8"/></g><g id="n41-157"><circle cy="3192.1"/></g><g id="n41-158"><circle cy="3212.3"/></g><g id="n41-159"><circle cy="3232.6"/></g><g id="n41-160"><circle cy="3252.9"/></g><g id="n41-161"><circle cy="3273.1"/></g><g id="n41-162"><circle cy="3293.4"/></g><g id="n41-163"><circle cy="3313.7"/></g><g id="n41-164"><circle cy="3333.9"/></g><g id="n41-165"><circle cy="3354.2"/></g><g id="n41-166"><circle cy="3374.5"/></g><g id="n41-167"><circle cy="3394.8"/></g><g id="n41-168"><circle cy="3415"/></g><g id="n41-169"><circle cy="3435.3"/></g><g id="n41-170"><circle cy="3455.6"/></g>
</g>
<g id="c42" transform="translate(92.7 0)">
<g id="n42-157"><circle cy="3192.1"/></g><g id="n42-158"><circle cy="3212.3"/></g><g id="n42-159"><circle cy="3232.6"/></g><g id="n42-160"><circle cy="3252.9"/></g><g id="n42-161"><circle cy="3273.1"/></g><g id="n42-162"><circle cy="3293.4"/></g><g id="n42-163"><circle cy="3313.7"/></g><g id="n42-164"><circle cy="3333.9"/></g><g id="n42-165"><circle cy="3354.2"/></g><g id="n42-166"><circle cy="3374.5"/></g><g id="n42-167"><circle cy="3394.8"/></g><g id="n42-168"><circle cy="3415"/></g><g id="n42-169"><circle cy="3435.3"/></g><g id="n42-170"><circle cy="3455.6"/></g><g id="n42-171"><circle cy="3475.8"/></g><g id="n42-172"><circle cy="3496.1"/></g><g id="n42-173"><circle cy="3516.4"/></g><g id="n42-174"><circle cy="3536.6"/></g><g id="n42-175"><circle cy="3556.9"/></g><g id="n42-176"><circle cy="3577.2"/></g>
</g>
<g id="c43" transform="translate(126 0)">
<g id="n43-157"><circle cy="3192.1"/></g><g id="n43-158"><circle cy="3212.3"/></g><g id="n43-159"><circle cy="3232.6"/></g><g id="n43-160"><circle cy="3252.9"/></g><g id="n43-161"><circle cy="3273.1"/></g><g id="n43-162"><circle cy="3293.4"/></g><g id="n43-163"><circle cy="3313.7"/></g><g id="n43-164"><circle cy="3333.9"/></g><g id="n43-165"><circle cy="3354.2"/></g><g id="n43-166"><circle cy="3374.5"/></g><g id="n43-167"><circle cy="3394.8"/></g><g id="n43-168"><circle cy="3415"/></g>
</g>
<g id="c44" transform="translate(59.3 0)">
<g id="n44-163"><circle cy="3313.7"/></g><g id="n44-164"><circle cy="3333.9"/></g><g id="n44-165"><circle cy="3354.2"/></g><g id="n44-166"><circle cy="3374.5"/></g><g id="n44-167"><circle cy="3394.8"/></g><g id="n44-168"><circle cy="3415"/></g><g id="n44-169"><circle cy="3435.3"/></g><g id="n44-170"><circle cy="3455.6"/></g>
</g>
<g id="c45" transform="translate(26 0)">
<g id="n45-169"><circle cy="3435.3"/></g><g id="n45-170"><circle cy="3455.6"/></g>
</g>
<g id="c46" transform="translate(10 0)">
<g id="n46-171"><circle cy="3475.8"/></g><g id="n46-172"><circle cy="3496.1"/></g>
</g>
<g id="c47" transform="translate(43.3 0)">
<g id="n47-171"><circle cy="3475.8"/></g><g id="n47-172"><circle cy="3496.1"/></g><g id="n47-173"><circle cy="3516.4"/></g><g id="n47-174"><circle cy="3536.6"/></g><g id="n47-175"><circle cy="3556.9"/></g><g id="n47-176"><circle cy="3577.2"/></g><g id="n47-177"><circle cy="3597.4"/></g><g id="n47-178"><circle cy="3617.7"/></g><g id="n47-179"><circle cy="3638"/></g><g id="n47-180"><circle cy="3658.2"/></g><g id="n47-181"><circle cy="3678.5"/></g><g id="n47-182"><circle cy="3698.8"/></g>
</g>
<g id="c48" transform="translate(240.7 0)">
<g id="n48-171"><circle cy="3475.8"/></g><g id="n48-172"><circle cy="3496.1"/></g><g id="n48-173"><circle cy="3516.4"/></g><g id="n48-174"><circle cy="3536.6"/></g>
</g>
<g id="c49" transform="translate(274 0)">
<g id="n49-171"><circle cy="3475.8"/></g><g id="n49-172"><circle cy="3496.1"/></g><g id="n49-173"><circle cy="3516.4"/></g><g id="n49-174"><circle cy="3536.6"/></g><g id="n49-175"><circle cy="3556.9"/></g><g id="n49-176"><circle cy="3577.2"/></g><g id="n49-177"><circle cy="3597.4"/></g><g id="n49-178"><circle cy="3617.7"/></g>
</g>
<g id="c50" transform="translate(258 0)">
<g id="n50-179"><circle cy="3638"/></g><g id="n50-180"><circle cy="3658.2"/></g><g id="n50-181"><circle cy="3678.5"/></g><g id="n50-182"><circle cy="3698.8"/></g><g id="n50-183"><circle cy="3719"/></g><g id="n50-184"><circle cy="3739.3"/></g><g id="n50-185"><circle cy="3759.6"/></g><g id="n50-186"><circle cy="3779.8"/></g><g id="n50-187"><circle cy="3800.1"/></g><g id="n50-188"><circle cy="3820.4"/></g><g id="n50-189"><circle cy="3840.7"/></g><g id="n50-190"><circle cy="3860.9"/></g><g id="n50-191"><circle cy="3881.2"/></g><g id="n50-192"><circle cy="3901.5"/></g><g id="n50-193"><circle cy="3921.7"/></g><g id="n50-194"><circle cy="3942"/></g><g id="n50-195"><circle cy="3962.3"/></g><g id="n50-196"><circle cy="3982.5"/></g><g id="n50-197"><circle cy="4002.8"/></g><g id="n50-198"><circle cy="4023.1"/></g>
</g>
<g id="c51" transform="translate(291.3 0)">
<g id="n51-179"><circle cy="3638"/></g><g id="n51-180"><circle cy="3658.2"/></g><g id="n51-181"><circle cy="3678.5"/></g><g id="n51-182"><circle cy="3698.8"/></g><g id="n51-183"><circle cy="3719"/></g><g id="n51-184"><circle cy="3739.3"/></g><g id="n51-185"><circle cy="3759.6"/></g><g id="n51-186"><circle cy="3779.8"/></g><g id="n51-187"><circle cy="3800.1"/></g><g id="n51-188"><circle cy="3820.4"/></g>
</g>
<g id="c52" transform="translate(324.7 0)">
<g id="n52-187"><circle cy="3800.1"/></g><g id="n52-188"><circle cy="3820.4"/></g><g id="n52-189"><circle cy="3840.7"/></g><g id="n52-190"><circle cy="3860.9"/></g><g id="n52-191"><circle cy="3881.2"/></g><g id="n52-192"><circle cy="3901.5"/></g><g id="n52-193"><circle cy="3921.7"/></g><g id="n52-194"><circle cy="3942"/></g><g id="n52-195"><circle cy="3962.3"/></g><g id="n52-196"><circle cy="3982.5"/></g><g id="n52-197"><circle cy="4002.8"/></g><g id="n52-198"><circle cy="4023.1"/></g><g id="n52-199"><circle cy="4043.3"/></g><g id="n52-200"><circle cy="4063.6"/></g><g id="n52-201"><circle cy="4083.9"/></g><g id="n52-202"><circle cy="4104.1"/></g>
</g>
<g id="c53" transform="translate(308.7 0)">
<g id="n53-203"><circle cy="4124.4"/></g><g id="n53-204"><circle cy="4144.7"/></g><g id="n53-205"><circle cy="4164.9"/></g><g id="n53-206"><circle cy="4185.2"/></g>
</g>
<g id="c54" transform="translate(342 0)">
<g id="n54-203"><circle cy="4124.4"/></g><g id="n54-204"><circle cy="4144.7"/></g><g id="n54-205"><circle cy="4164.9"/></g><g id="n54-206"><circle cy="4185.2"/></g><g id="n54-207"><circle cy="4205.5"/></g><g id="n54-208"><circle cy="4225.7"/></g>
</g>
<g id="c55" transform="translate(275.3 0)">
<g id="n55-205"><circle cy="4164.9"/></g><g id="n55-206"><circle cy="4185.2"/></g><g id="n55-207"><circle cy="4205.5"/></g><g id="n55-208"><circle cy="4225.7"/></g><g id="n55-209"><circle cy="4246"/></g><g id="n55-210"><circle cy="4266.3"/></g>
</g>
<g id="c56" transform="translate(324.7 0)">
<g id="n56-209"><circle cy="4246"/></g><g id="n56-210"><circle cy="4266.3"/></g>
</g>
<g id="c57" transform="translate(358 0)">
<g id="n57-209"><circle cy="4246"/></g><g id="n57-210"><circle cy="4266.3"/></g><g id="n57-211"><circle cy="4286.5"/></g><g id="n57-212"><circle cy="4306.8"/></g><g id="n57-213"><circle cy="4327.1"/></g><g id="n57-214"><circle cy="4347.4"/></g>
</g>
<g id="c58" transform="translate(342 0)">
<g id="n58-215"><circle cy="4367.6"/></g><g id="n58-216"><circle cy="4387.9"/></g><g id="n58-217"><circle cy="4408.2"/></g><g id="n58-218"><circle cy="4428.4"/></g>
</g>
<g id="c59" transform="translate(375.3 0)">
<g id="n59-215"><circle cy="4367.6"/></g><g id="n59-216"><circle cy="4387.9"/></g><g id="n59-217"><circle cy="4408.2"/></g><g id="n59-218"><circle cy="4428.4"/></g><g id="n59-219"><circle cy="4448.7"/></g><g id="n59-220"><circle cy="4469"/></g><g id="n59-221"><circle cy="4489.2"/></g><g id="n59-222"><circle cy="4509.5"/></g><g id="n59-223"><circle cy="4529.8"/></g><g id="n59-224"><circle cy="4550"/></g>
</g>
</g>
</svg>
